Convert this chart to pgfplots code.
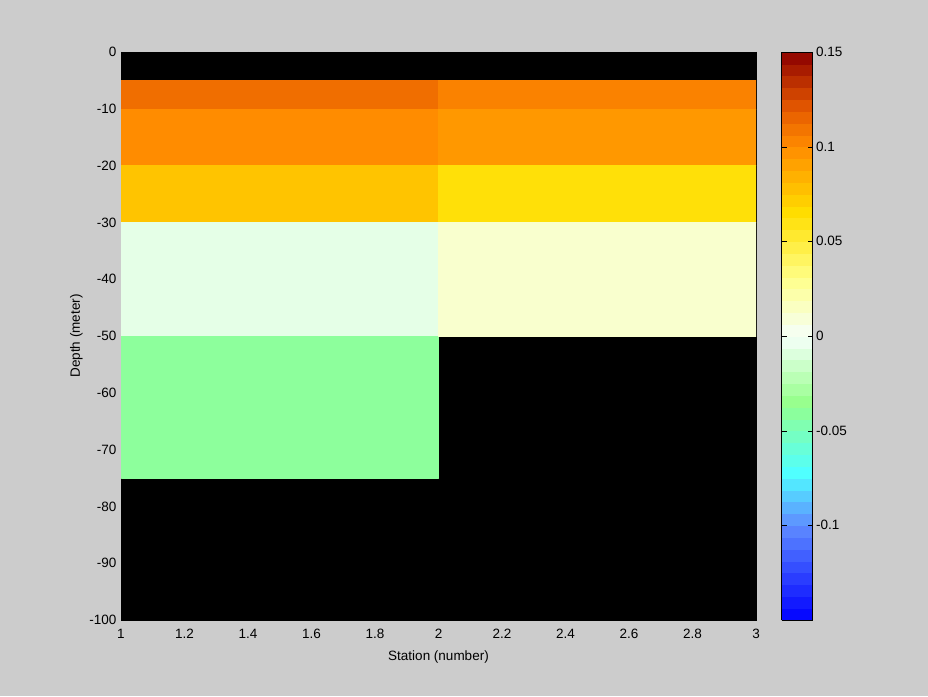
\documentclass[border=0pt]{standalone}
\usepackage{fontspec}
\setmainfont{Liberation Sans}
\usepackage{pgfplots}
\usepackage{pgfplotstable}
\pgfplotsset{compat=1.18}
\definecolor{figbg}{RGB}{204,204,204}

% one rectangle per cell: four corners, same value on each
\pgfplotstableread{
x y c
1 -10 0.112
2 -10 0.112
2 -5 0.112
1 -5 0.112
1 -20 0.100
2 -20 0.100
2 -10 0.100
1 -10 0.100
1 -30 0.076
2 -30 0.076
2 -20 0.076
1 -20 0.076
1 -50 -0.006
2 -50 -0.006
2 -30 -0.006
1 -30 -0.006
1 -75 -0.040
2 -75 -0.040
2 -50 -0.040
1 -50 -0.040
2 -10 0.104
3 -10 0.104
3 -5 0.104
2 -5 0.104
2 -20 0.095
3 -20 0.095
3 -10 0.095
2 -10 0.095
2 -30 0.063
3 -30 0.063
3 -20 0.063
2 -20 0.063
2 -50 0.012
3 -50 0.012
3 -30 0.012
2 -30 0.012
}\cells

\begin{document}
\begin{tikzpicture}[x=1pt,y=1pt]
\fill[figbg] (0,0) rectangle (928,696);
\useasboundingbox (0,0) rectangle (928,696);
\begin{axis}[
  at={(121pt,76pt)}, anchor=south west,
  scale only axis, width=635pt, height=568pt,
  xmin=1, xmax=3, ymin=-100, ymax=0,
  xtick={1,1.2,1.4,1.6,1.8,2,2.2,2.4,2.6,2.8,3},
  ytick={-100,-90,-80,-70,-60,-50,-40,-30,-20,-10,0},
  /pgf/number format/assume math mode=true,
  tick label style={font=\fontsize{13.5}{15}\selectfont},
  xticklabel style={yshift=-6pt},
  yticklabel style={xshift=-1pt},
  label style={font=\fontsize{13.5}{15}\selectfont},
  xlabel style={yshift=-5pt},
  xlabel={Station (number)},
  ylabel={Depth (meter)},
  tick align=inside, major tick length=5pt,
  tick style={black},
  axis background/.style={fill=black},
  axis line style={black},
  colormap={wbmap}{
    rgb255(0)=(0,0,255)
    rgb255(5)=(95,140,255)
    rgb255(7.8)=(80,255,255)
    rgb255(11.5)=(150,255,140)
    rgb255(15)=(245,255,250)
    rgb255(18)=(255,255,140)
    rgb255(21.5)=(255,222,0)
    rgb255(25)=(255,140,0)
    rgb255(27)=(230,90,0)
    rgb255(30)=(140,0,0)
  },
  point meta min=-0.15, point meta max=0.15,
  colorbar sampled,
  colorbar style={
    at={(parent axis.north east)}, anchor=north west,
    xshift=17pt, width=31pt,
    samples=49,
    ytick={-0.1,-0.05,0,0.05,0.1,0.15},
    yticklabels={-0.1,-0.05,0,0.05,0.1,0.15},
    ytick pos=both, yticklabel pos=right,
    tick align=inside, major tick length=5pt,
    tick style={black},
    axis line style={black},
    yticklabel style={font=\fontsize{13.5}{15}\selectfont},
  },
]
\addplot[patch, patch type=rectangle, shader=flat, point meta=explicit]
  table[x=x, y=y, meta=c] {\cells};
\end{axis}
\end{tikzpicture}
\end{document}
